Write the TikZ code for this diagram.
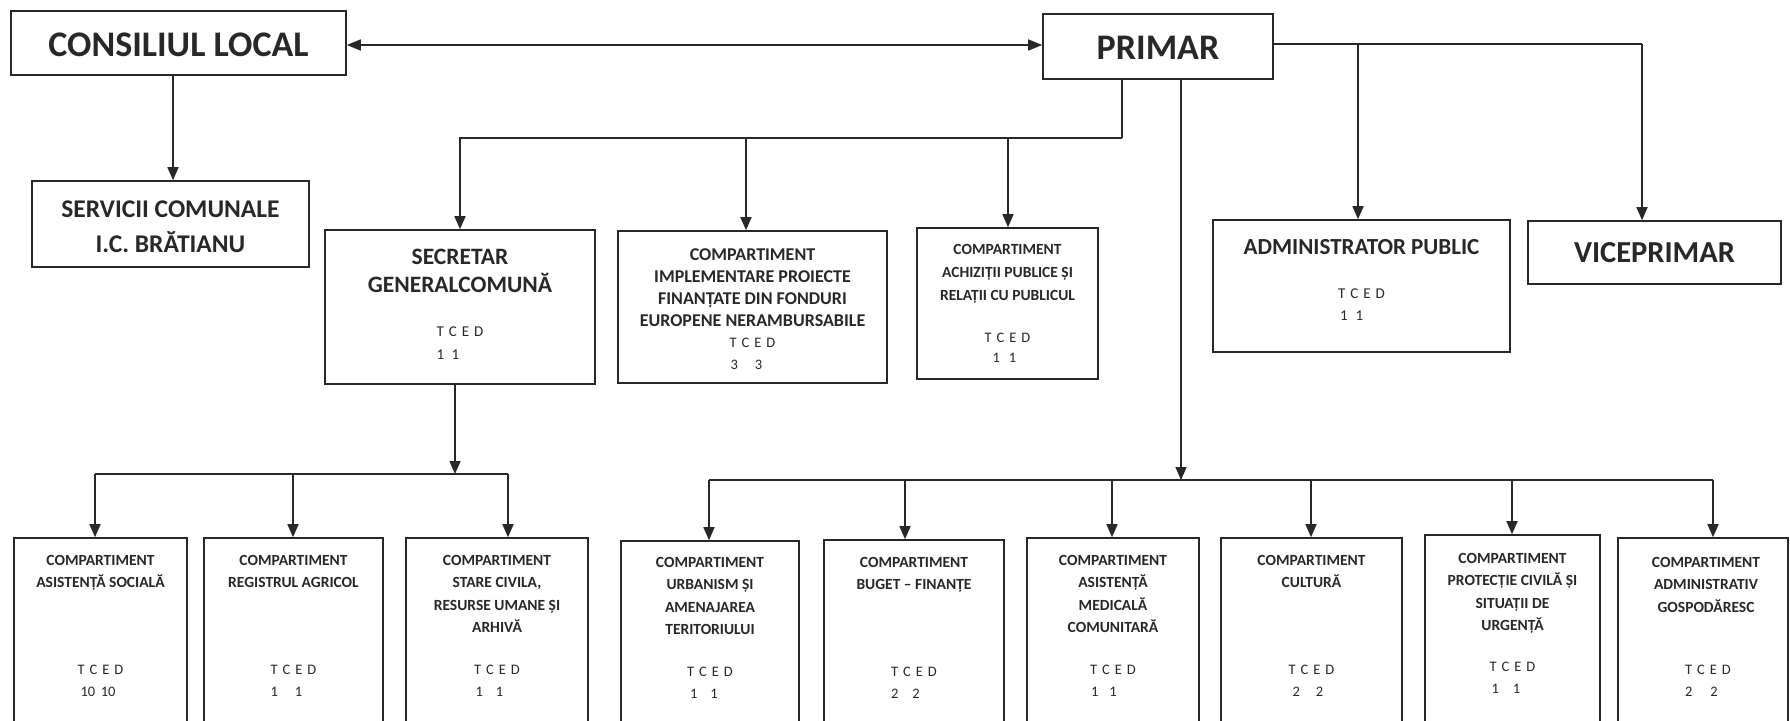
\documentclass[tikz,border=0pt]{standalone}
\usepackage{fontspec}
\setmainfont{Carlito}
\usetikzlibrary{arrows.meta,fit}
\definecolor{ink}{RGB}{40,40,40}
\newcommand\st{\rule{0pt}{1em}}
\newcommand\tced{T\hspace{5pt}C\hspace{5pt}E\hspace{5pt}D}
\tikzset{
  box/.style={draw=ink, line width=1.6pt, inner sep=0pt},
  conn/.style={draw=ink, line width=1.6pt},
  arr/.style={conn, -{Triangle[length=13pt,width=11pt]}},
  dbl/.style={conn, {Triangle[length=14pt,width=11pt]}-{Triangle[length=14pt,width=11pt]}},
  txt/.style={text=ink, inner sep=0pt, anchor=north},
  ctr/.style={text=ink, inner sep=0pt, anchor=center},
  ttl/.style={txt, align=center},
  num/.style={txt, align=left, font=\fontsize{14.5}{22}\selectfont},
  small/.style={font=\fontsize{15.5}{22.5}\selectfont\bfseries},
}
\begin{document}
\begin{tikzpicture}[x=1pt,y=-1pt]
\useasboundingbox (0,0) rectangle (1790,720);
\clip (0,0) rectangle (1790,720);
\fill[white] (0,0) rectangle (1790,720);

% top level
\node[box, fit={(11,11) (346,75)}] (cl) {};
\node[ctr, font=\fontsize{36}{43}\selectfont\bfseries] (cl-t) at (178.5,45) {CONSILIUL LOCAL};
\node[box, fit={(1043,14) (1273,79)}] (primar) {};
\node[ctr, font=\fontsize{36}{43}\selectfont\bfseries] (primar-t) at (1158,48) {PRIMAR};
\node[box, fit={(32,181) (309,267)}] (serv) {};
\node[ttl, font=\fontsize{25.5}{35}\selectfont\bfseries] (serv-t) at (170.5,191.6) {\st SERVICII COMUNALE\\I.C. BRĂTIANU};

% second level
\node[box, fit={(325,230) (595,384)}] (sec) {};
\node[ttl, font=\fontsize{23.5}{28}\selectfont\bfseries] (sec-t) at (460,241) {\st SECRETAR\\GENERALCOMUNĂ};
\node[num, font=\fontsize{15}{23}\selectfont] (sec-n) at (460,321.7) {\st\tced\\1\hspace{7.5pt}1};

\node[box, fit={(618,231) (887,383)}] (impl) {};
\node[ttl, font=\fontsize{18}{22}\selectfont\bfseries] (impl-t) at (752.5,242.7) {\st COMPARTIMENT\\IMPLEMENTARE PROIECTE\\FINANȚATE DIN FONDURI\\EUROPENE NERAMBURSABILE};
\node[num] (impl-n) at (752.5,333) {\st\tced\\\hspace*{1pt}3\hspace{17pt}3};

\node[box, fit={(917,228) (1098,379)}] (ach) {};
\node[ttl, font=\fontsize{15.5}{23}\selectfont\bfseries] (ach-t) at (1007.5,238.4) {\st COMPARTIMENT\\ACHIZIȚII PUBLICE ȘI\\RELAȚII CU PUBLICUL};
\node[num, font=\fontsize{14.5}{20}\selectfont] (ach-n) at (1007.5,328) {\st\tced\\\hspace*{8pt}1\hspace{9pt}1};

\node[box, fit={(1213,220) (1510,352)}] (adm) {};
\node[ttl, font=\fontsize{23}{28}\selectfont\bfseries] (adm-t) at (1361.5,231.3) {\st ADMINISTRATOR PUBLIC};
\node[num, font=\fontsize{15}{22}\selectfont] (adm-n) at (1361.5,283.7) {\st\tced\\\hspace*{2pt}1\hspace{8pt}1};

\node[box, fit={(1528,221) (1781,284)}] (vice) {};
\node[ctr, font=\fontsize{30.5}{36}\selectfont\bfseries] (vice-t) at (1654.5,252.5) {VICEPRIMAR};

% bottom level
\node[box, fit={(14,538) (187,740)}] (b1) {};
\node[ttl, small] (b1-t) at (100.5,549.4) {\st COMPARTIMENT\\ASISTENȚĂ SOCIALĂ};
\node[num] (b1-n) at (100.5,660) {\st\tced\\\hspace*{3pt}10\hspace{5.5pt}10};

\node[box, fit={(204,538) (383,740)}] (b2) {};
\node[ttl, small] (b2-t) at (293.5,549.4) {\st COMPARTIMENT\\REGISTRUL AGRICOL};
\node[num] (b2-n) at (293.5,660) {\st\tced\\1\hspace{17pt}1};

\node[box, fit={(406,538) (588,740)}] (b3) {};
\node[ttl, small] (b3-t) at (497,549.4) {\st COMPARTIMENT\\STARE CIVILA,\\RESURSE UMANE ȘI\\ARHIVĂ};
\node[num] (b3-n) at (497,660) {\st\tced\\\hspace*{1.5pt}1\hspace{13pt}1};

\node[box, fit={(621,541) (799,740)}] (b4) {};
\node[ttl, small] (b4-t) at (710,551.4) {\st COMPARTIMENT\\URBANISM ȘI\\AMENAJAREA\\TERITORIULUI};
\node[num] (b4-n) at (710,662) {\st\tced\\\hspace*{3pt}1\hspace{13pt}1};

\node[box, fit={(824,540) (1004,740)}] (b5) {};
\node[ttl, small] (b5-t) at (914,551.4) {\st COMPARTIMENT\\BUGET – FINANȚE};
\node[num] (b5-n) at (914,662) {\st\tced\\2\hspace{14pt}2};

\node[box, fit={(1027,538) (1199,740)}] (b6) {};
\node[ttl, small] (b6-t) at (1113,549.4) {\st COMPARTIMENT\\ASISTENȚĂ\\MEDICALĂ\\COMUNITARĂ};
\node[num] (b6-n) at (1113,660) {\st\tced\\\hspace*{1pt}1\hspace{11pt}1};

\node[box, fit={(1221,538) (1402,740)}] (b7) {};
\node[ttl, small] (b7-t) at (1311.5,549.4) {\st COMPARTIMENT\\CULTURĂ};
\node[num] (b7-n) at (1311.5,660) {\st\tced\\\hspace*{4pt}2\hspace{16pt}2};

\node[box, fit={(1425,535) (1600,740)}] (b8) {};
\node[ttl, small] (b8-t) at (1512.5,547.4) {\st COMPARTIMENT\\PROTECȚIE CIVILĂ ȘI\\SITUAȚII DE\\URGENȚĂ};
\node[num] (b8-n) at (1512.5,657) {\st\tced\\\hspace*{2pt}1\hspace{14pt}1};

\node[box, fit={(1618,538) (1788,740)}] (b9) {};
\node[ttl, small] (b9-t) at (1706,551.4) {\st COMPARTIMENT\\ADMINISTRATIV\\GOSPODĂRESC};
\node[num] (b9-n) at (1708,660) {\st\tced\\2\hspace{18pt}2};

% junction coordinates
\coordinate (cS) at (173,0);
\coordinate (jP) at (1122,138);
\coordinate (aI) at (746,138);
\coordinate (aC) at (1008,138);
\coordinate (jR) at (1642,44);
\coordinate (aA) at (1358,44);
\coordinate (jS) at (455,474);
\coordinate (s1) at (95,474);
\coordinate (s2) at (293,474);
\coordinate (s3) at (508,474);
\coordinate (jB) at (1181,480);
\coordinate (p4) at (709,480);
\coordinate (p5) at (905,480);
\coordinate (p6) at (1112,480);
\coordinate (p7) at (1311,480);
\coordinate (p8) at (1512,480);
\coordinate (p9) at (1713,480);

% connectors
\draw[dbl] ([yshift=-2pt]cl.east) -- ([yshift=-2pt]cl.east -| primar.west);
\draw[arr] (cS |- cl.south) -- (cS |- serv.north);

\draw[conn] (jP |- primar.south) -- (jP);
\draw[arr] (jP) -| (sec.north);
\draw[arr] (aI) -- (aI |- impl.north);
\draw[arr] (aC) -- (aC |- ach.north);

\draw[conn] (primar.east |- jR) -- (jR);
\draw[arr] (jR) -- (jR |- vice.north);
\draw[arr] (aA) -- (aA |- adm.north);

\draw[arr] (jS |- sec.south) -- (jS);
\draw[conn] (s1) -- (s3);
\draw[arr] (s1) -- (s1 |- b1.north);
\draw[arr] (s2) -- (s2 |- b2.north);
\draw[arr] (s3) -- (s3 |- b3.north);

\draw[arr] (jB |- primar.south) -- (jB);
\draw[conn] (p4) -- (p9);
\draw[arr] (p4) -- (p4 |- b4.north);
\draw[arr] (p5) -- (p5 |- b5.north);
\draw[arr] (p6) -- (p6 |- b6.north);
\draw[arr] (p7) -- (p7 |- b7.north);
\draw[arr] (p8) -- (p8 |- b8.north);
\draw[arr] (p9) -- (p9 |- b9.north);
\end{tikzpicture}
\end{document}
